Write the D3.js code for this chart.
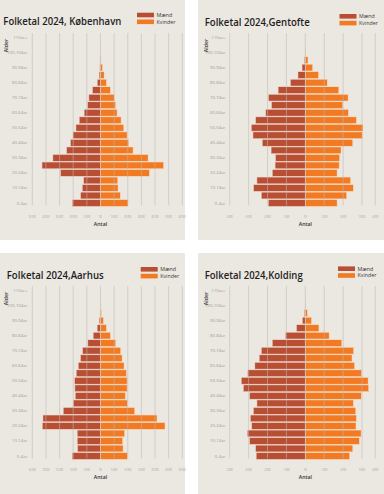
<!DOCTYPE html>
<html>
<head>
<meta charset="utf-8">
<script src="https://cdn.jsdelivr.net/npm/d3@7"></script>
<style>
  body { margin: 0; background: #fff; }
  svg { display: block; }
</style>
</head>
<body>
<svg id="chart" width="384" height="494"></svg>
<script>
// age groups, youngest first
const ageGroups = ["0-4år","5-9år","10-14år","15-19år","20-24år","25-29år","30-34år","35-39år",
  "40-44år","45-49år","50-54år","55-59år","60-64år","65-69år","70-74år","75-79år","80-84år",
  "85-89år","90-94år","95-99år","100-104år","105-109år","110år+"];

const kbhMen   = [20700,14600,13400,12400,29300,42900,34900,24900,22000,20200,18000,15600,12000,9500,8500,5900,2400,1000,500,150,10,0,0];
const kbhWomen = [20200,14600,12900,12700,35900,46300,34900,23900,20700,19500,17100,15100,12200,11200,10200,7300,4400,2700,1500,400,30,0,0];

const genMen   = [1960,2330,2740,2560,1750,1600,1580,1810,2280,2770,2860,2630,2100,1790,1950,1440,790,390,175,50,5,0,0];
const genWomen = [1680,2190,2540,2400,1680,1790,1820,1890,2510,3020,3050,2700,2280,1980,2260,1770,1160,700,390,140,15,0,0];

const aarMen   = [10370,8410,8540,8540,21340,21100,13660,10000,9270,9390,9510,8900,8170,7320,6590,4630,2680,1220,490,120,10,0,0];
const aarWomen = [9880,8290,8170,8900,23660,20730,12560,9880,9150,9760,9760,9510,8660,7930,7440,5610,3660,2200,1100,370,30,0,0];

const kolMen   = [2600,2630,2950,3070,2840,2910,2750,2560,2950,3280,3390,3050,2670,2440,2330,1750,1050,470,160,50,5,0,0];
const kolWomen = [2350,2510,2860,2950,2680,2700,2670,2540,2960,3350,3320,2980,2610,2470,2560,1930,1260,720,330,110,10,0,0];

const bigTicks   = [-50000,-40000,-30000,-20000,-10000,0,10000,20000,30000,40000,50000,60000];
const aarTicks   = [-25000,-20000,-15000,-10000,-5000,0,5000,10000,15000,20000,25000,30000];
const smallTicks = [-4000,-3000,-2000,-1000,0,1000,2000,3000,4000];

const legendLabels = ["Mænd","Kvinder"];
const colors = { men: "#b84f35", women: "#f27a22" };

const dk = d3.formatLocale({decimal: ",", thousands: ".", grouping: [3], currency: ["", " kr"]});
const fmt = dk.format(",d");

const panels = [
  {x: 0,   y: 0,   w: 185, h: 240, title: "Folketal 2024, København", titleX: 3.3, titleY: 25, titleW: 118,
   men: kbhMen, women: kbhWomen, domain: [-50000, 60000], ticks: bigTicks, legendX: 137, legendY: 12.7},
  {x: 198, y: 0,   w: 186, h: 240, title: "Folketal 2024,Gentofte", titleX: 6.7, titleY: 26, titleW: 105,
   men: genMen, women: genWomen, domain: [-4000, 3700], ticks: smallTicks, legendX: 141.5, legendY: 14},
  {x: 0,   y: 253, w: 185, h: 241, title: "Folketal 2024,Aarhus", titleX: 6.7, titleY: 26, titleW: 97,
   men: aarMen, women: aarWomen, domain: [-25000, 30000], ticks: aarTicks, legendX: 140.7, legendY: 14},
  {x: 198, y: 253, w: 186, h: 241, title: "Folketal 2024,Kolding", titleX: 6.7, titleY: 25.5, titleW: 98,
   men: kolMen, women: kolWomen, domain: [-4000, 3700], ticks: smallTicks, legendX: 140, legendY: 13.4}
];

const svg = d3.select("#chart");

panels.forEach(p => drawPanel(p));

function drawPanel(p) {
  const g = svg.append("g").attr("transform", `translate(${p.x},${p.y})`);

  g.append("rect")
    .attr("width", p.w).attr("height", p.h)
    .attr("fill", "#ebe7e1");

  //x: men to the left (negative), women to the right
  const x = d3.scaleLinear()
    .domain(p.domain)
    .range(p.domain[1] === 3700 ? [31.7, 177.3] : [32.3, 182.3])
    .clamp(true);

  //y: oldest on top
  const y = d3.scaleBand()
    .domain(ageGroups.slice().reverse())
    .range([33.7, 206.8])
    .paddingInner(0.1)
    .paddingOuter(0.05);

  const rows = ageGroups.map((a, i) => ({age: a, men: p.men[i], women: p.women[i]}));

  // bars
  g.append("g").selectAll("rect.men")
    .data(rows)
    .join("rect")
      .attr("class", "men")
      .attr("x", d => x(-d.men))
      .attr("y", d => y(d.age))
      .attr("width", d => x(0) - x(-d.men))
      .attr("height", y.bandwidth())
      .attr("fill", colors.men)
      .attr("stroke", "#f2dccd")
      .attr("stroke-width", 0.5);

  g.append("g").selectAll("rect.women")
    .data(rows)
    .join("rect")
      .attr("class", "women")
      .attr("x", x(0))
      .attr("y", d => y(d.age))
      .attr("width", d => x(d.women) - x(0))
      .attr("height", y.bandwidth())
      .attr("fill", colors.women)
      .attr("stroke", "#f7e2d0")
      .attr("stroke-width", 0.5);

  // gridlines sit on top of the bars (they show through in the original)
  g.append("g").selectAll("line")
    .data(p.ticks)
    .join("line")
      .attr("x1", d => x(d)).attr("x2", d => x(d))
      .attr("y1", 33).attr("y2", 205.5)
      .attr("stroke", "#bdbab5")
      .attr("stroke-opacity", 0.55)
      .attr("stroke-width", 1);

  // x tick labels (squeezed like the original)
  g.append("g").selectAll("text")
    .data(p.ticks)
    .join("text")
      .attr("x", d => x(d))
      .attr("y", 217.5)
      .attr("text-anchor", "middle")
      .attr("font-family", "Open Sans, sans-serif")
      .attr("font-size", 4.2)
      .attr("fill", "#9c9a97")
      .text(d => fmt(Math.abs(d)))
      .each(function(d) {
        const t = fmt(Math.abs(d));
        if (t.length > 1) {
          d3.select(this)
            .attr("textLength", t.length > 5 ? 7 : 6)
            .attr("lengthAdjust", "spacingAndGlyphs");
        }
      });

  // age labels, every other group
  g.append("g").selectAll("text")
    .data(ageGroups.filter((a, i) => i % 2 === 0))
    .join("text")
      .attr("x", 27.3)
      .attr("y", d => y(d) + y.bandwidth() / 2 + 1.5)
      .attr("text-anchor", "end")
      .attr("font-family", "Open Sans, sans-serif")
      .attr("font-size", 4.3)
      .attr("fill", "#9c9a97")
      .text(d => d);

  // axis titles
  g.append("text")
    .attr("transform", `translate(${p.x === 0 ? 7.5 : 9.5},45.5) rotate(-90)`)
    .attr("text-anchor", "middle")
    .attr("font-family", "Open Sans, sans-serif")
    .attr("font-size", 5.2)
    .attr("font-weight", 600)
    .attr("fill", "#333")
    .text("Alder");

  g.append("text")
    .attr("x", x(0))
    .attr("y", 226)
    .attr("text-anchor", "middle")
    .attr("font-family", "Open Sans, sans-serif")
    .attr("font-size", 5.2)
    .attr("font-weight", 600)
    .attr("fill", "#333")
    .text("Antal");

  // title
  g.append("text")
    .attr("x", p.titleX)
    .attr("y", p.titleY)
    .attr("font-family", "Open Sans, sans-serif")
    .attr("font-size", 10.5)
    .attr("font-weight", 600)
    .attr("fill", "#1e1e1e")
    .attr("textLength", p.titleW)
    .attr("lengthAdjust", "spacingAndGlyphs")
    .text(p.title);

  // legend
  const lg = g.append("g").attr("transform", `translate(${p.legendX},${p.legendY})`);
  lg.selectAll("rect")
    .data(legendLabels)
    .join("rect")
      .attr("x", 0)
      .attr("y", (d, i) => i * 6.8)
      .attr("width", 17)
      .attr("height", 4.6)
      .attr("fill", (d, i) => i === 0 ? colors.men : colors.women);
  lg.selectAll("text")
    .data(legendLabels)
    .join("text")
      .attr("x", 19.5)
      .attr("y", (d, i) => i * 6.8 + 4.2)
      .attr("font-family", "Open Sans, sans-serif")
      .attr("font-size", 5.3)
      .attr("fill", "#3a3a3a")
      .text(d => d);
}
</script>
</body>
</html>
